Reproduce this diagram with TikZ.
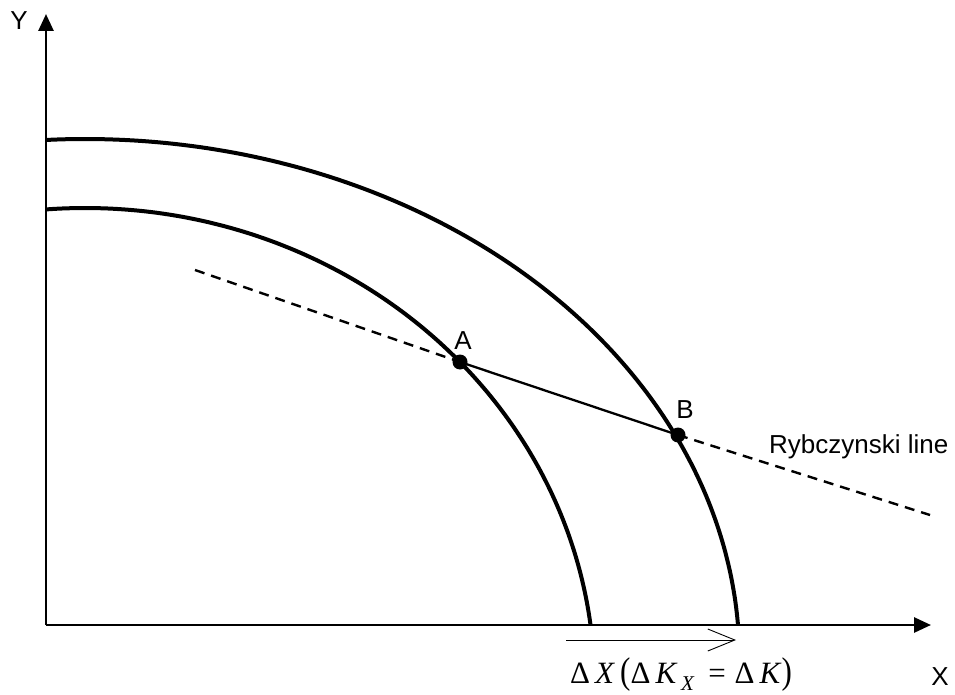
\documentclass[tikz,border=0pt]{standalone}
\usepackage{fontspec}
\usepackage{graphicx}
\setmainfont{Liberation Sans}
\newfontfamily\tms{Liberation Serif}
\usetikzlibrary{arrows.meta}
\begin{document}
\begin{tikzpicture}[x=1pt,y=-1pt,
  axis/.style={line width=2.8pt,-{Triangle[length=17pt,width=15pt]}},
  ppf/.style={line width=4pt},
  ryb/.style={line width=2.4pt,dash pattern=on 10pt off 7pt},
  seg/.style={line width=2.3pt},
  dot/.style={circle,fill=black,inner sep=0pt,minimum size=15pt},
  lab/.style={font=\fontsize{26}{30}\selectfont,inner sep=0pt}]
\useasboundingbox (0,0) rectangle (955,695);
% axes
\coordinate (O) at (46,625);
\coordinate (Ytop) at (46,14);
\coordinate (Xend) at (931,625);
\draw[axis] (O) -- (Ytop);
\draw[axis] (O) -- (Xend);
\node[lab] (ylab) at (19,21) {Y};
\node[lab] (xlab) at (940,677) {X};
% frontiers
\draw[ppf] plot[smooth,samples=120,domain=94.39:7.23] ({85+509.6*cos(\x)},{685-477*sin(\x)});
\draw[ppf] plot[smooth,samples=120,domain=93.42:3.85] ({85+654.5*cos(\x)},{660-521*sin(\x)});
% points
\node[dot] (A) at (460,362) {};
\node[dot] (B) at (678,435) {};
\coordinate (Rs) at (195,270);
\coordinate (Re) at (930,515);
\draw[ryb] (Rs) -- (A.center);
\draw[ryb] (B.center) -- (Re);
\draw[seg] (A.center) -- (B.center);
\node[lab] (alab) at (463,341) {A};
\node[lab] (blab) at (685,410) {B};
\node[lab,anchor=west] (rlab) at (769,447) {Rybczynski line};
% delta arrow
\coordinate (d1) at (566,640);
\coordinate (d2) at (736,640);
\draw[line width=0.9pt,-{Straight Barb[length=27pt,width=22pt,line width=0.9pt]}] (d1) -- (d2);
\node[inner sep=0pt,font=\tms\fontsize{31}{36}\selectfont] (dlab) at (681,675)
  {Δ\,\textit{X}\,\scalebox{1}[1.2]{(}Δ\,\textit{K}\raisebox{-0.45ex}{\fontsize{21}{24}\selectfont\,\textit{X}}\;\,=\;Δ\,\textit{K}\scalebox{1}[1.2]{)}};
\end{tikzpicture}
\end{document}
